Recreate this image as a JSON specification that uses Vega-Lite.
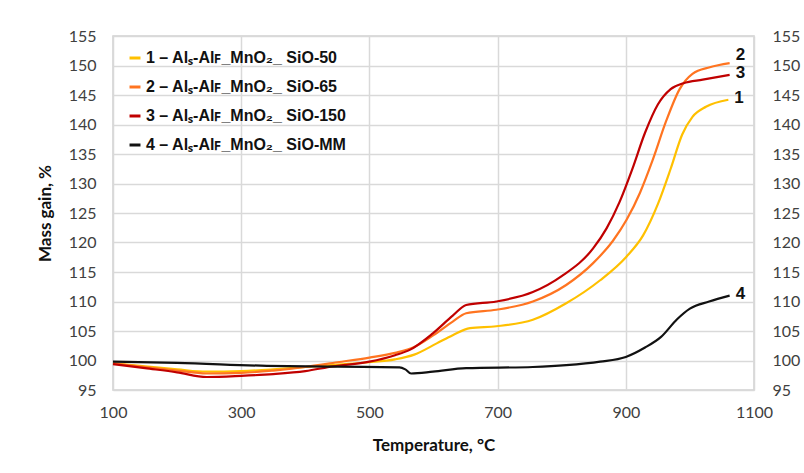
{
  "$schema": "https://vega.github.io/schema/vega-lite/v6.json",
  "width": 641,
  "height": 354,
  "autosize": "none",
  "padding": {"left": 113, "top": 36, "right": 50, "bottom": 83},
  "background": "white",
  "config": {
    "view": {"stroke": "#d0d0d0", "strokeWidth": 1.5},
    "axis": {
      "labelFont": "Lato", "labelFontSize": 16, "labelColor": "#404040", "labelFlush": false,
      "titleFont": "Lato", "titleFontSize": 17, "titleFontWeight": "bold", "titleColor": "#111",
      "ticks": false, "domain": false, "gridColor": "#d9d9d9", "gridWidth": 1.5
    }
  },
  "datasets": {
    "curves": [
      {"s": "1", "t": 100, "m": 99.5}, {"s": "1", "t": 150, "m": 99.0}, {"s": "1", "t": 200, "m": 98.5}, {"s": "1", "t": 246, "m": 98.1}, {"s": "1", "t": 300, "m": 98.2}, {"s": "1", "t": 350, "m": 98.5}, {"s": "1", "t": 400, "m": 98.9}, {"s": "1", "t": 450, "m": 99.3}, {"s": "1", "t": 500, "m": 99.7}, {"s": "1", "t": 540, "m": 100.2}, {"s": "1", "t": 570, "m": 101.0}, {"s": "1", "t": 605, "m": 102.9}, {"s": "1", "t": 630, "m": 104.3}, {"s": "1", "t": 657, "m": 105.5}, {"s": "1", "t": 698, "m": 105.8}, {"s": "1", "t": 755, "m": 106.9}, {"s": "1", "t": 807, "m": 109.7}, {"s": "1", "t": 860, "m": 113.6}, {"s": "1", "t": 901, "m": 117.6}, {"s": "1", "t": 927, "m": 121.2}, {"s": "1", "t": 950, "m": 126.5}, {"s": "1", "t": 970, "m": 132.5}, {"s": "1", "t": 988, "m": 138.3}, {"s": "1", "t": 1004, "m": 141.3}, {"s": "1", "t": 1025, "m": 143.0}, {"s": "1", "t": 1060, "m": 144.2},
      {"s": "2", "t": 100, "m": 99.5}, {"s": "2", "t": 150, "m": 98.9}, {"s": "2", "t": 200, "m": 98.3}, {"s": "2", "t": 246, "m": 97.8}, {"s": "2", "t": 300, "m": 97.9}, {"s": "2", "t": 350, "m": 98.3}, {"s": "2", "t": 400, "m": 98.9}, {"s": "2", "t": 450, "m": 99.7}, {"s": "2", "t": 500, "m": 100.5}, {"s": "2", "t": 540, "m": 101.3}, {"s": "2", "t": 570, "m": 102.3}, {"s": "2", "t": 600, "m": 104.3}, {"s": "2", "t": 630, "m": 106.6}, {"s": "2", "t": 651, "m": 108.0}, {"s": "2", "t": 698, "m": 108.6}, {"s": "2", "t": 755, "m": 110.0}, {"s": "2", "t": 807, "m": 112.8}, {"s": "2", "t": 849, "m": 116.5}, {"s": "2", "t": 880, "m": 120.3}, {"s": "2", "t": 901, "m": 123.8}, {"s": "2", "t": 922, "m": 128.4}, {"s": "2", "t": 942, "m": 134.0}, {"s": "2", "t": 963, "m": 140.6}, {"s": "2", "t": 984, "m": 146.0}, {"s": "2", "t": 1004, "m": 148.6}, {"s": "2", "t": 1031, "m": 149.7}, {"s": "2", "t": 1062, "m": 150.4},
      {"s": "3", "t": 100, "m": 99.4}, {"s": "3", "t": 150, "m": 98.7}, {"s": "3", "t": 200, "m": 98.0}, {"s": "3", "t": 246, "m": 97.2}, {"s": "3", "t": 300, "m": 97.4}, {"s": "3", "t": 350, "m": 97.7}, {"s": "3", "t": 400, "m": 98.2}, {"s": "3", "t": 443, "m": 99.0}, {"s": "3", "t": 500, "m": 99.8}, {"s": "3", "t": 540, "m": 100.9}, {"s": "3", "t": 563, "m": 101.8}, {"s": "3", "t": 599, "m": 104.6}, {"s": "3", "t": 630, "m": 107.6}, {"s": "3", "t": 651, "m": 109.4}, {"s": "3", "t": 698, "m": 110.0}, {"s": "3", "t": 755, "m": 111.6}, {"s": "3", "t": 800, "m": 114.3}, {"s": "3", "t": 849, "m": 119.0}, {"s": "3", "t": 870, "m": 122.4}, {"s": "3", "t": 890, "m": 126.8}, {"s": "3", "t": 910, "m": 132.4}, {"s": "3", "t": 930, "m": 138.6}, {"s": "3", "t": 950, "m": 143.4}, {"s": "3", "t": 970, "m": 146.0}, {"s": "3", "t": 990, "m": 147.0}, {"s": "3", "t": 1020, "m": 147.6}, {"s": "3", "t": 1062, "m": 148.4},
      {"s": "4", "t": 100, "m": 99.8}, {"s": "4", "t": 200, "m": 99.6}, {"s": "4", "t": 340, "m": 99.1}, {"s": "4", "t": 450, "m": 98.95}, {"s": "4", "t": 547, "m": 98.85}, {"s": "4", "t": 556, "m": 98.5}, {"s": "4", "t": 565, "m": 97.8}, {"s": "4", "t": 599, "m": 98.1}, {"s": "4", "t": 651, "m": 98.7}, {"s": "4", "t": 755, "m": 98.9}, {"s": "4", "t": 807, "m": 99.2}, {"s": "4", "t": 860, "m": 99.8}, {"s": "4", "t": 900, "m": 100.6}, {"s": "4", "t": 930, "m": 102.2}, {"s": "4", "t": 955, "m": 104.0}, {"s": "4", "t": 980, "m": 107.0}, {"s": "4", "t": 1000, "m": 108.8}, {"s": "4", "t": 1030, "m": 110.0}, {"s": "4", "t": 1062, "m": 111.0}
    ],
    "ends": [
      {"s": "1", "t": 1060, "m": 144.2},
      {"s": "2", "t": 1062, "m": 150.4},
      {"s": "3", "t": 1062, "m": 148.4},
      {"s": "4", "t": 1062, "m": 111.0}
    ]
  },
  "layer": [
    {
      "data": {"name": "curves"},
      "mark": {"type": "line", "interpolate": "monotone", "strokeWidth": 2.2},
      "encoding": {
        "x": {"field": "t", "type": "quantitative", "scale": {"domain": [100, 1100], "nice": false},
              "axis": {"values": [100, 300, 500, 700, 900, 1100], "format": "d", "grid": true, "title": "Temperature, °C", "labelPadding": 14, "titlePadding": 17}},
        "y": {"field": "m", "type": "quantitative", "scale": {"domain": [95, 155], "nice": false, "zero": false},
              "axis": {"orient": "left", "grid": true, "values": [95, 100, 105, 110, 115, 120, 125, 130, 135, 140, 145, 150, 155], "title": "Mass gain, %", "labelPadding": 17, "titlePadding": 14}},
        "color": {"field": "s", "type": "nominal",
          "scale": {"domain": ["1", "2", "3", "4"], "range": ["#FFC000", "#FF7420", "#C00000", "#111111"]},
          "legend": {
            "title": null, "orient": "top-left", "offset": 14,
            "symbolType": "stroke", "symbolSize": 120, "symbolStrokeWidth": 3,
            "labelFont": "Liberation Sans", "labelFontSize": 16, "labelFontWeight": "bold", "labelColor": "#111",
            "labelLimit": 400, "rowPadding": 13, "labelOffset": 3,
            "labelExpr": "datum.value == '1' ? '1 – Alₛ-Alꜰ_MnO₂_ SiO-50' : datum.value == '2' ? '2 – Alₛ-Alꜰ_MnO₂_ SiO-65' : datum.value == '3' ? '3 – Alₛ-Alꜰ_MnO₂_ SiO-150' : '4 – Alₛ-Alꜰ_MnO₂_ SiO-MM'"
          }},
        "detail": {"field": "s"}
      }
    },
    {
      "data": {"name": "ends"},
      "transform": [{"filter": "datum.s != '2'"}],
      "mark": {"type": "text", "align": "left", "baseline": "middle", "dx": 6, "dy": -2, "font": "Liberation Sans", "fontSize": 17, "fontWeight": "bold", "color": "#111"},
      "encoding": {
        "x": {"field": "t", "type": "quantitative"},
        "y": {"field": "m", "type": "quantitative",
              "axis": {"orient": "right", "values": [95, 100, 105, 110, 115, 120, 125, 130, 135, 140, 145, 150, 155], "title": null, "grid": false, "labelPadding": 18}},
        "text": {"field": "s"}
      }
    },
    {
      "data": {"name": "ends"},
      "transform": [{"filter": "datum.s == '2'"}],
      "mark": {"type": "text", "align": "left", "baseline": "middle", "dx": 6, "dy": -8, "font": "Liberation Sans", "fontSize": 17, "fontWeight": "bold", "color": "#111"},
      "encoding": {
        "x": {"field": "t", "type": "quantitative"},
        "y": {"field": "m", "type": "quantitative", "axis": null},
        "text": {"field": "s"}
      }
    }
  ],
  "resolve": {"axis": {"y": "independent"}}
}
